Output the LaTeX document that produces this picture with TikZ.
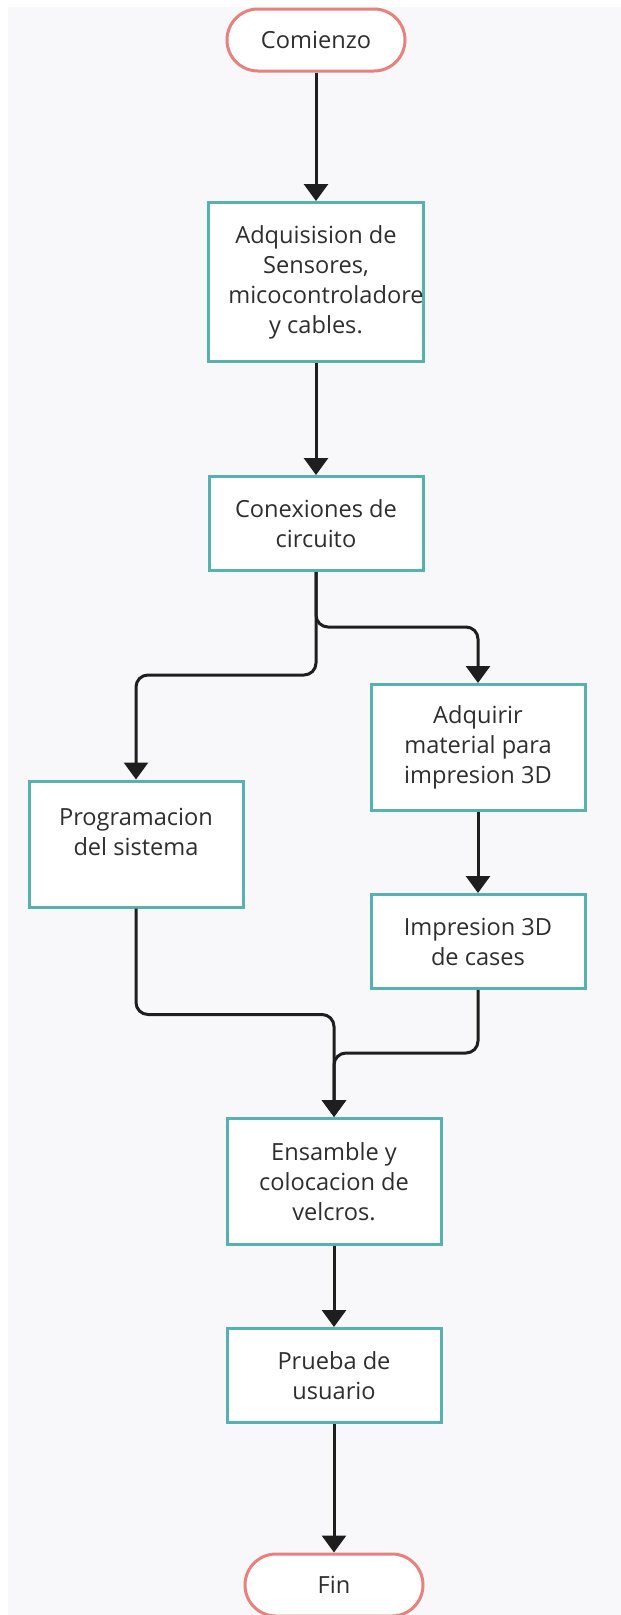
\documentclass[tikz,border=0pt]{standalone}
\usepackage{fontspec}
\setmainfont{Open Sans}
\usetikzlibrary{arrows.meta}
\definecolor{bgc}{HTML}{F8F8FA}
\definecolor{tealc}{HTML}{55B2AF}
\definecolor{redc}{HTML}{E8807C}
\definecolor{linec}{HTML}{1E1E1E}
\definecolor{txtc}{HTML}{2E2E2E}
\tikzset{
  stepbox/.style={draw=tealc, line width=3pt, fill=white, minimum width=214pt, inner sep=0pt, align=center, text=txtc, font=\fontsize{23.6}{30}\selectfont},
  termbox/.style={draw=redc, line width=3pt, fill=white, minimum width=178pt, minimum height=62pt, rounded corners=31pt, inner sep=0pt, align=center, text=txtc, font=\fontsize{23.6}{30}\selectfont},
  conn/.style={draw=linec, line width=3pt, rounded corners=12pt, -{Triangle[width=24pt,length=17pt]}}
}
\begin{document}
\begin{tikzpicture}[x=1pt,y=-1pt]
\useasboundingbox (0,0) rectangle (621,1615);
\clip (0,0) rectangle (621,1615);
\fill[bgc] (8,7) rectangle (621,1615);
\node[termbox] (start) at (316,40) {Comienzo};
\node[stepbox, minimum height=159pt] (b1) at (316,282) {Adquisision de\\Sensores,\\\hspace*{20pt}micocontroladore\\y cables.};
\node[stepbox, minimum height=94pt] (b2) at (316,523.5) {Conexiones de\\circuito};
\node[stepbox, minimum height=126pt] (b3) at (136,844) {Programacion\\del sistema\\[-6pt]\mbox{}};
\node[stepbox, minimum height=126pt] (b4) at (478,747.5) {Adquirir\\material para\\impresion 3D};
\node[stepbox, minimum height=94pt] (b5) at (478,941.5) {Impresion 3D\\de cases};
\node[stepbox, minimum height=126pt] (b6) at (334,1181.5) {Ensamble y\\colocacion de\\velcros.};
\node[stepbox, minimum height=94pt] (b7) at (334,1375.5) {Prueba de\\usuario};
\node[termbox] (fin) at (334,1585) {Fin};
\draw[conn] (start) -- (b1);
\draw[conn] (b1) -- (b2);
\draw[conn] (b2.south) -- ++(0,103) -| (b3.north);
\draw[conn] (b2.south) -- ++(0,55) -| (b4.north);
\draw[conn] (b4) -- (b5);
\draw[conn] (b3.south) -- ++(0,106) -| (b6.north);
\draw[conn] (b5.south) -- ++(0,63) -| (b6.north);
\draw[conn] (b6) -- (b7);
\draw[conn] (b7) -- (fin);
\end{tikzpicture}
\end{document}
